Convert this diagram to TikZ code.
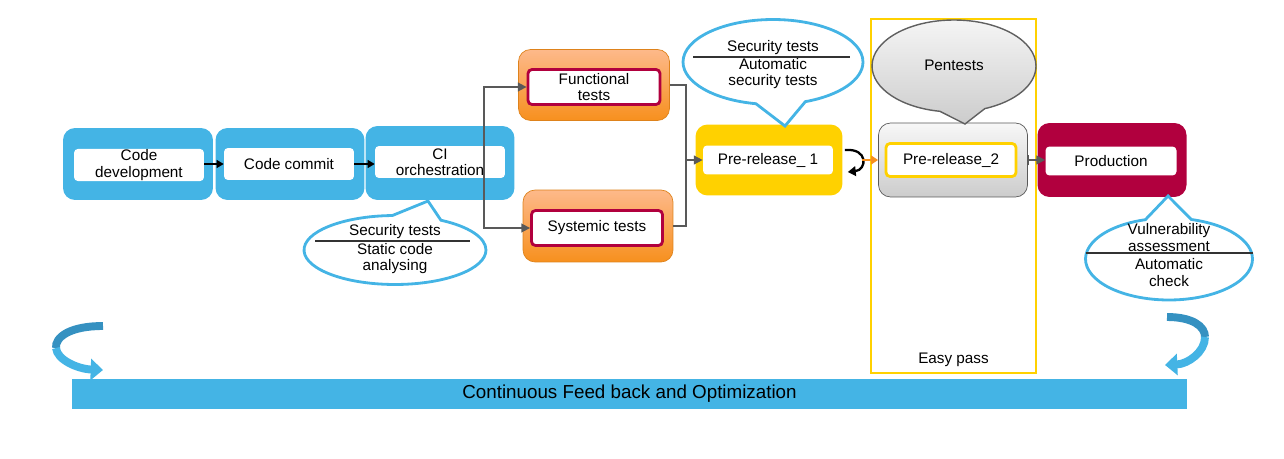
\documentclass[tikz,border=0pt]{standalone}
\usepackage{fontspec}
\setmainfont{Liberation Sans}
\usepackage{tikz}
\usetikzlibrary{shapes, shapes.callouts, arrows.meta, positioning, calc}

\definecolor{skyblue}{HTML}{44B4E5}
\definecolor{skydark}{HTML}{3591C1}
\definecolor{sunyellow}{HTML}{FFD100}
\definecolor{crimson}{HTML}{B1003E}
\definecolor{peach}{HTML}{FDB98A}
\definecolor{tangerine}{HTML}{F7901E}
\definecolor{lineGray}{HTML}{595959}

\begin{document}
\begin{tikzpicture}[
    x=0.02cm, y=-0.02cm,
    font=\fontsize{8.7}{9.2}\selectfont,
    stagebox/.style={rectangle, rounded corners=0.24cm, minimum width=2.98cm, minimum height=1.44cm},
    stagetxt/.style={rectangle, fill=white, rounded corners=0.08cm, minimum width=2.6cm, minimum height=0.64cm, align=center, inner sep=0.5pt},
    orangebox/.style={stagebox, draw=tangerine!90!black, top color=peach, bottom color=tangerine, minimum width=3.02cm, minimum height=1.42cm},
    testbox/.style={stagetxt, draw=crimson, line width=1.6pt, minimum width=2.62cm, minimum height=0.7cm},
    bubble/.style={ellipse callout, draw=skyblue, line width=1.6pt, fill=white, inner sep=0pt, callout pointer arc=32},
    bubbletxt/.style={align=center, inner sep=0pt},
    sepline/.style={draw=black!80, line width=0.6pt},
    flow/.style={draw=lineGray, line width=0.9pt, -{Triangle[length=5pt, width=5pt]}},
    link/.style={draw=black, line width=0.9pt, -{Triangle[length=4pt, width=4.5pt]}},
    swirl/.style={line width=4.5pt}
]
\useasboundingbox (0,0) rectangle (1284,459);

% easy pass frame
\node[draw=sunyellow, line width=0.8pt, minimum width=3.3cm, minimum height=7.08cm] (easy) at (953.5,196) {};
\node[above=0.1cm of easy.south, inner sep=1pt] (easytxt) {Easy pass};

% main stages
\node[stagebox, fill=skyblue, minimum width=3cm] (dev) at (138,164) {};
\node[stagetxt] (devtxt) at (139,165) {Code\\development};
\node[stagebox, fill=skyblue] (commit) at (290,164) {};
\node[stagetxt] (committxt) at (289,164) {Code commit};
\node[stagebox, fill=skyblue, minimum height=1.48cm] (ci) at (440,163) {};
\node[stagetxt] (citxt) at (440,162) {CI\\orchestration};

\node[orangebox] (func) at (594,85) {};
\node[testbox, minimum width=2.64cm] (functxt) at (594,87) {Functional\\tests};
\node[orangebox, minimum width=3cm, minimum height=1.44cm] (sys) at (598,226) {};
\node[testbox] (systxt) at (597,228) {Systemic tests};

\node[stagebox, fill=sunyellow, minimum width=2.94cm, minimum height=1.42cm] (pre1) at (769,160) {};
\node[stagetxt, minimum height=0.58cm] (pre1txt) at (768,160) {Pre-release\_ 1};
\node[stagebox, draw=lineGray, top color=gray!6, bottom color=gray!40, minimum height=1.48cm] (pre2) at (953,160) {};
\node[stagetxt, draw=sunyellow, line width=1.6pt, minimum width=2.6cm, minimum height=0.66cm] (pre2txt) at (951,160) {Pre-release\_2};
\node[stagebox, fill=crimson, minimum height=1.48cm] (prod) at (1112,160) {};
\node[stagetxt, minimum width=2.62cm, minimum height=0.58cm] (prodtxt) at (1111,161) {Production};

% connectors
\draw[link] (devtxt.east |- committxt) -- (committxt);
\draw[link] (committxt.east) -- (committxt.east -| citxt.west);
\coordinate (fork) at (484,162);
\draw[flow] (fork) |- (functxt);
\draw[flow] (fork) |- (systxt);
\coordinate (merge) at (686,160);
\draw[lineGray, line width=0.9pt] (func) -| (merge);
\draw[lineGray, line width=0.9pt] (sys) -| (merge);
\draw[flow] (merge) -- (pre1txt);
\draw[black, line width=1.3pt, -{Triangle[length=4.5pt, width=5.5pt]}] ($(pre1.east)+(2,-10)$) .. controls ($(pre1.east)+(26,-12)$) and ($(pre1.east)+(24,10)$) .. ($(pre1.east)+(5,12)$);
\draw[tangerine, line width=1pt, -{Triangle[length=4pt, width=5pt]}] ($(pre1.east)+(19,0)$) -- (pre2);
\draw[lineGray, line width=0.9pt, {Bar[width=6pt]}-{Triangle[length=5pt, width=5pt]}] (pre2.east) -- (pre2.east -| prodtxt.west);

% callouts
\node[bubble, minimum width=3.64cm, minimum height=1.38cm, callout absolute pointer={(428,201)}] (statsec) at (395,250) {};
\node[bubbletxt] (statsectxt) at ($(statsec.center)+(0,-1)$) {Security tests\\[1.5pt]Static code\\analysing};
\draw[sepline] ($(statsec.center)+(-80,-9)$) -- ($(statsec.center)+(75,-9)$);
\node[bubble, minimum width=3.6cm, minimum height=1.7cm, callout absolute pointer={(785,126)}] (autosec) at (773,62) {};
\node[bubbletxt] (autosectxt) at ($(autosec.center)+(0,3)$) {Security tests\\[1pt]Automatic\\security tests};
\draw[sepline] ($(autosec.center)+(-80,-5)$) -- ($(autosec.center)+(77,-5)$);
\node[bubble, draw=gray!75!black, line width=0.8pt, top color=gray!8, bottom color=gray!40, minimum width=3.28cm, minimum height=1.84cm, callout absolute pointer={(965,124)}] (pentest) at (954,66) {};
\node[bubbletxt] (pentesttxt) at ($(pentest.center)+(0,-1)$) {Pentests};
\node[bubble, minimum width=3.34cm, minimum height=1.64cm, callout absolute pointer={(1168,196)}] (vulncheck) at (1169,259) {};
\node[bubbletxt] (vulnchecktxt) at ($(vulncheck.center)+(0,-4)$) {Vulnerability\\assessment\\[1.5pt]Automatic\\check};
\draw[sepline] ($(vulncheck.center)+(-83,-6)$) -- ($(vulncheck.center)+(84,-6)$);

% feedback bar
\node[fill=skyblue, minimum width=22.3cm, minimum height=0.56cm, font=\fontsize{10.7}{12}\selectfont] (feedback) at (629.5,394) {Continuous Feed back and Optimization};
\draw[swirl, skydark] (103,326) .. controls (70,326) and (55,337) .. (56,348);
\draw[swirl, skyblue, -{Triangle[length=7pt, width=12pt]}] (56,348) .. controls (57,360) and (78,369) .. (103,370);
\draw[swirl, skydark] (1167,317) .. controls (1192,317) and (1205,326) .. (1205,337);
\draw[swirl, skyblue, -{Triangle[length=7pt, width=12pt]}] (1205,337) .. controls (1205,352) and (1188,364) .. (1165,365);
\end{tikzpicture}
\end{document}
